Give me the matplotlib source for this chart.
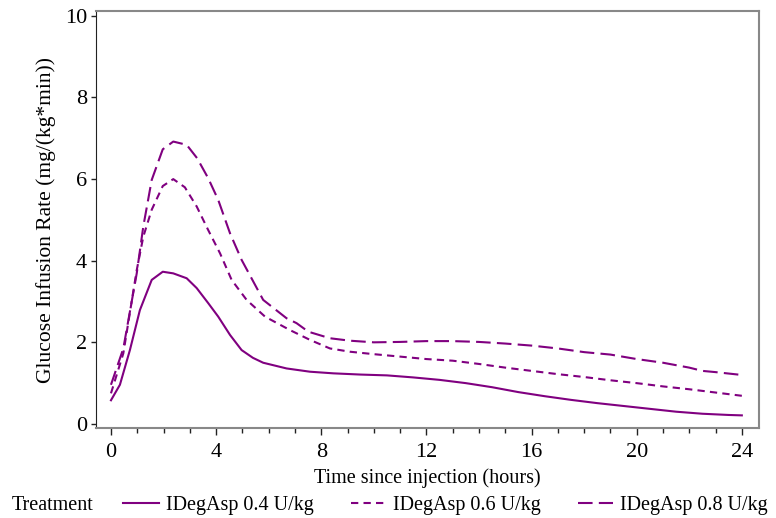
import numpy as np
import matplotlib.pyplot as plt
from matplotlib.lines import Line2D

# values
t_04 = [0, 0.34, 0.72, 1.1, 1.55, 1.97, 2.37, 2.88, 3.26, 3.7, 4.08, 4.53, 4.97, 5.4, 5.79,
        6.68, 7.57, 8.46, 9.5, 10.5, 11.5, 12.5, 13.5, 14.5, 15.5, 16.5, 17.5, 18.5, 19.5,
        20.5, 21.5, 22.5, 23.5, 24]
gir_04 = [0.58, 0.96, 1.81, 2.79, 3.53, 3.73, 3.69, 3.57, 3.33, 2.96, 2.63, 2.18, 1.81, 1.62, 1.5,
          1.36, 1.28, 1.24, 1.21, 1.19, 1.14, 1.08, 1.0, 0.9, 0.78, 0.68, 0.59, 0.51, 0.44,
          0.37, 0.3, 0.25, 0.22, 0.21]

t_06 = [0, 0.47, 0.98, 1.23, 1.55, 1.97, 2.37, 2.81, 3.26, 3.7, 4.15, 4.59, 5.16, 5.86,
        6.81, 7.57, 8.33, 9.09, 10, 11, 12, 13, 14, 15, 16, 17, 18, 19, 20, 21, 22, 23, 24]
gir_06 = [0.75, 1.73, 3.77, 4.59, 5.25, 5.83, 6.0, 5.8, 5.33, 4.75, 4.18, 3.53, 3.04, 2.63,
          2.3, 2.06, 1.85, 1.77, 1.71, 1.65, 1.59, 1.55, 1.47, 1.38, 1.3, 1.22, 1.15, 1.07,
          1.0, 0.92, 0.85, 0.77, 0.69]

t_08 = [0, 0.47, 0.98, 1.23, 1.55, 1.97, 2.37, 2.88, 3.28, 3.7, 4.08, 4.53, 4.97, 5.79,
        6.68, 7.06, 7.51, 8.33, 9.09, 10, 11, 12, 13, 14, 15, 16, 17, 18, 19, 20, 21, 22,
        22.5, 23, 24]
gir_08 = [0.96, 1.85, 3.69, 4.84, 5.98, 6.73, 6.92, 6.84, 6.51, 6.02, 5.49, 4.67, 4.02, 3.04,
          2.59, 2.47, 2.26, 2.1, 2.04, 2.0, 2.01, 2.03, 2.03, 2.01, 1.97, 1.92, 1.85, 1.76,
          1.7, 1.59, 1.5, 1.38, 1.3, 1.27, 1.2]

labels = ['IDegAsp 0.4 U/kg', 'IDegAsp 0.6 U/kg', 'IDegAsp 0.8 U/kg']
purple = '#800080'
styles = ['-', (0, (3.5, 2.5)), (0, (7, 3))]

plt.rcParams['font.family'] = ['Liberation Serif', 'DejaVu Serif']

fig = plt.figure(figsize=(7.76, 5.18), dpi=100)
ax = fig.add_axes([0.1237, 0.1737, 0.8543, 0.8051])

ax.plot(t_04, gir_04, color=purple, lw=1.5, linestyle=styles[0])
ax.plot(t_06, gir_06, color=purple, lw=1.5, linestyle=styles[1])
ax.plot(t_08, gir_08, color=purple, lw=1.5, linestyle=styles[2])

ax.set_xlim(-0.57, 24.65)
ax.set_ylim(-0.1, 10.12)
ax.set_xticks(np.arange(0, 25, 4))
ax.set_xticks(np.arange(0, 25, 1), minor=True)
ax.set_yticks(np.arange(0, 11, 2))
ax.tick_params(axis='both', which='major', labelsize=16, width=1, color='#222222')
ax.tick_params(axis='x', which='major', length=5, pad=6)
ax.tick_params(axis='y', which='major', length=3.5, pad=3)
ax.tick_params(axis='x', which='minor', length=3.5, width=1, color='#222222')
for side in ['top', 'right', 'bottom']:
    ax.spines[side].set_color('#888888')
    ax.spines[side].set_linewidth(1.5)
ax.spines['left'].set_color('#222222')

ax.set_xlabel('Time since injection (hours)', fontsize=14.5, labelpad=4)
ax.set_ylabel('Glucose Infusion Rate (mg/(kg*min))', fontsize=15.5, labelpad=6)

fig.text(0.015, 0.025, 'Treatment', fontsize=14.5, va='center')
# one legend per entry so each sits where the reference puts it
x_starts = [0.159, 0.452, 0.745]
for lab, ls, x0 in zip(labels, styles, x_starts):
    h = Line2D([], [], color=purple, lw=1.5, linestyle=ls)
    fig.legend([h], [lab], loc='center left', bbox_to_anchor=(x0, 0.025),
               frameon=False, fontsize=14.5, handlelength=1.75, handletextpad=0.35,
               borderpad=0, borderaxespad=0)

fig.savefig('out.png', dpi=100)
